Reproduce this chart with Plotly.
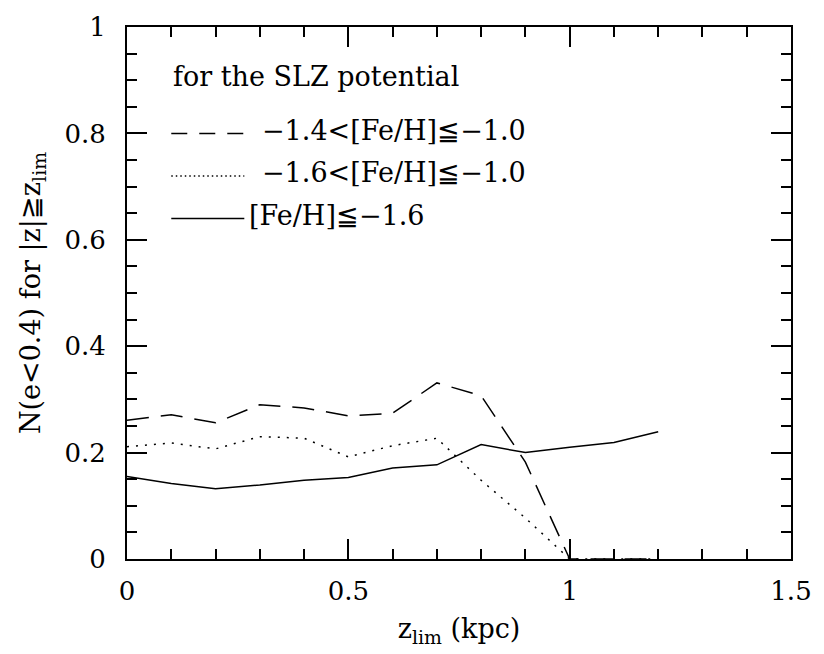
import plotly.graph_objects as go

# z_lim grid (kpc)
z_lim = [0.0, 0.1, 0.2, 0.3, 0.4, 0.5, 0.6, 0.7, 0.8, 0.9, 1.0, 1.1, 1.2]

# fraction N(e<0.4) for |z| >= z_lim, per metallicity bin
n_mid = [0.261, 0.271, 0.256, 0.290, 0.284, 0.269, 0.274, 0.331, 0.307, 0.182, 0.0, 0.0, 0.0]
n_wide = [0.211, 0.218, 0.207, 0.230, 0.227, 0.192, 0.213, 0.227, 0.148, 0.077, 0.0, 0.0, 0.0]
n_poor = [0.155, 0.142, 0.132, 0.139, 0.148, 0.153, 0.171, 0.177, 0.215, 0.200, 0.210, 0.219, 0.239]

labels = ["−1.4<[Fe/H]≦−1.0", "−1.6<[Fe/H]≦−1.0", "[Fe/H]≦−1.6"]
legend_title = "for the SLZ potential"

FONT = "DejaVu Serif"
TICK_FS = 26
TEXT_FS = 27

fig = go.Figure()
fig.add_trace(go.Scatter(x=z_lim, y=n_mid, mode="lines",
                         line=dict(color="black", width=1.5, dash="22px,12px")))
fig.add_trace(go.Scatter(x=z_lim, y=n_wide, mode="lines",
                         line=dict(color="black", width=1.5, dash="2px,7px")))
fig.add_trace(go.Scatter(x=z_lim, y=n_poor, mode="lines",
                         line=dict(color="black", width=1.5)))

# hand-drawn key inside the frame
key_dash = ["16px,12px", "1.5px,3px", "solid"]
key_y = [0.80, 0.72, 0.64]
key_x_text = [0.30, 0.30, 0.27]
for lab, d, ky, kx in zip(labels, key_dash, key_y, key_x_text):
    fig.add_shape(type="line", xref="x", yref="y", x0=0.10, x1=0.265, y0=ky, y1=ky,
                  line=dict(color="black", width=1.5, dash=d))
    fig.add_annotation(x=kx, y=ky, xref="x", yref="y", text=lab, showarrow=False,
                       xanchor="left", yanchor="middle", yshift=3,
                       font=dict(family=FONT, size=TEXT_FS, color="black"))
fig.add_annotation(x=0.10, y=0.895, xref="x", yref="y", text=legend_title, showarrow=False,
                   xanchor="left", yanchor="middle", yshift=6,
                   font=dict(family=FONT, size=TEXT_FS, color="black"))

axis_common = dict(
    showline=True, linecolor="black", linewidth=2, mirror="ticks",
    ticks="inside", ticklen=20, tickwidth=1.5, tickcolor="black",
    showgrid=False, zeroline=False,
    tickfont=dict(family=FONT, size=TICK_FS, color="black"),
)

fig.update_xaxes(range=[0, 1.5], tickvals=[0, 0.5, 1, 1.5], ticktext=["0", "0.5", "1", "1.5"],
                 minor=dict(dtick=0.1, ticks="inside", ticklen=10, tickwidth=1.5, tickcolor="black"),
                 ticklabelstandoff=8,
                 title=dict(text="z<sub>lim</sub> (kpc)", font=dict(family=FONT, size=TEXT_FS, color="black"),
                            standoff=14),
                 **axis_common)
fig.update_yaxes(range=[0, 1], tickvals=[0, 0.2, 0.4, 0.6, 0.8, 1], ticktext=["0", "0.2", "0.4", "0.6", "0.8", "1"],
                 minor=dict(dtick=0.05, ticks="inside", ticklen=10, tickwidth=1.5, tickcolor="black"),
                 ticklabelstandoff=14,
                 title=dict(text="N(e<0.4) for |z|≧z<sub>lim</sub>",
                            font=dict(family=FONT, size=TEXT_FS, color="black"), standoff=16),
                 **axis_common)

fig.update_layout(
    width=824, height=654,
    margin=dict(l=127, r=29, t=20, b=95),
    plot_bgcolor="white", paper_bgcolor="white",
    showlegend=False,
)

fig.write_html("out.html")
